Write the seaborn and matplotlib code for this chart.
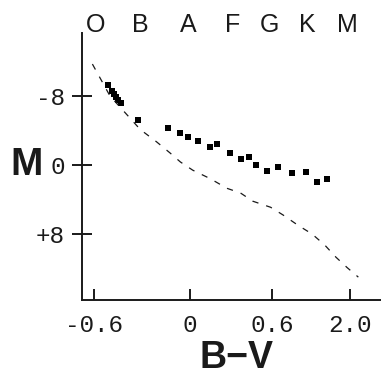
import numpy as np
import matplotlib
matplotlib.use("Agg")
import matplotlib.pyplot as plt
import seaborn as sns

# plotted stars: colour index B-V and absolute magnitude M
star_bv = [-0.51, -0.49, -0.475, -0.46, -0.45, -0.43, -0.325, -0.14, -0.06, -0.01,
           0.06, 0.15, 0.20, 0.29, 0.37, 0.43, 0.48, 0.56, 0.71, 0.96, 1.21, 1.41, 1.58]
star_mag = [-9.3, -8.6, -8.2, -7.9, -7.5, -7.2, -5.2, -4.3, -3.7, -3.25,
            -2.8, -2.1, -2.4, -1.4, -0.7, -0.9, 0.0, 0.7, 0.2, 0.9, 0.8, 2.0, 1.6]

# dashed reference curve (main sequence)
ms_bv = [-0.61, -0.5, -0.31, -0.21, -0.125, -0.06, 0.02, 0.15, 0.27, 0.37, 0.46,
         0.59, 0.80, 1.07, 1.32, 1.55, 1.75, 1.95, 2.15]
ms_mag = [-11.7, -8.0, -4.1, -2.7, -1.4, -0.35, 0.6, 1.6, 2.7, 3.25, 4.2,
          4.9, 5.8, 7.0, 8.0, 9.3, 10.7, 11.9, 13.0]

# spectral classes along the top
spec_labels = ["O", "B", "A", "F", "G", "K", "M"]
spec_bv = [-0.59, -0.31, -0.01, 0.31, 0.58, 1.23, 1.96]

x_ticks = [-0.6, 0, 0.6, 2.0]
x_ticklabels = ["-0.6", "0", "0.6", "2.0"]
y_ticks = [-8, 0, 8]
y_ticklabels = ["-8", "0", "+8"]

# the B-V axis is stretched unevenly: piecewise linear scale
_scale_bv = np.array([-1.0, -0.6, 0.0, 0.6, 2.0, 3.0])
_scale_pos = np.array([30.0, 94.0, 190.0, 272.0, 350.0, 405.7])


def fwd(v):
    return np.interp(v, _scale_bv, _scale_pos)


def inv(p):
    return np.interp(p, _scale_pos, _scale_bv)


sns.set_style("ticks")
plt.rcParams["font.family"] = ["Liberation Sans", "DejaVu Sans"]

fig = plt.figure(figsize=(3.81, 3.77), dpi=100)
ax = fig.add_axes([82 / 381, 77 / 377, 299 / 381, 267 / 377])
ax.set_xscale("function", functions=(fwd, inv))

ink = "#1a1a1a"
sns.lineplot(x=ms_bv, y=ms_mag, sort=False, color=ink, linewidth=0.9, ax=ax)
ax.lines[-1].set_dashes((5, 6.5))
sns.scatterplot(x=star_bv, y=star_mag, marker="s", s=14, color="black",
                linewidth=0, ax=ax)

ax.set_xlim(-0.675, 2.557)
ax.set_ylim(15.65, -15.3)

mono = ["Liberation Mono", "DejaVu Sans Mono"]
ax.set_xticks(x_ticks)
ax.set_xticklabels(x_ticklabels, family=mono, fontsize=17.5)
ax.set_yticks(y_ticks)
ax.set_yticklabels(y_ticklabels, family=mono, fontsize=17.5)
ax.minorticks_off()
ax.tick_params(axis="x", direction="in", length=8, width=1.4, pad=10, colors=ink)
ax.tick_params(axis="y", direction="inout", length=15, width=1.4, pad=5, colors=ink)

sns.despine(ax=ax)
for side in ["left", "bottom"]:
    ax.spines[side].set_linewidth(1.4)
    ax.spines[side].set_color(ink)

for lab, bv in zip(spec_labels, spec_bv):
    ax.text(bv, 1.005, lab, transform=ax.get_xaxis_transform(), ha="center",
            va="baseline", fontsize=18, color=ink)

ax.set_xlabel("B\u2212V", fontsize=27, fontweight="bold", color=ink)
ax.xaxis.set_label_coords(0.518, -0.217)
ax.set_ylabel("M", fontsize=28, fontweight="bold", rotation=0, color=ink)
ax.yaxis.set_label_coords(-0.187, 0.506)
ax.xaxis.label.set_va("center")
ax.yaxis.label.set_va("center")

fig.savefig("out.png", dpi=100)
